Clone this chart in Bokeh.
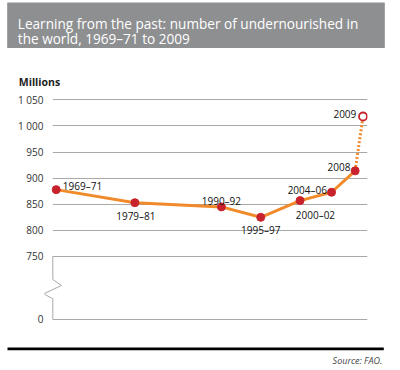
from bokeh.plotting import figure
from bokeh.layouts import column
from bokeh.models import FixedTicker, Range1d
from bokeh.core.properties import value
from bokeh.embed import file_html
from bokeh.resources import INLINE

# ---- data ----
periods = ["1969–71", "1979–81", "1990–92", "1995–97", "2000–02", "2004–06", "2008", "2009"]
mid_years = [1970, 1980, 1991, 1996, 2001, 2005, 2008, 2009]
millions = [878, 853, 845, 825, 857, 873, 914, 1018]
tick_values = [0, 750, 800, 850, 900, 950, 1000, 1050]
tick_labels = ["0", "750", "800", "850", "900", "950", "1 000", "1 050"]
title_lines = ["Learning from the past: number of undernourished in",
               "the world, 1969–71 to 2009"]
y_unit = "Millions"
source = "Source: FAO."

# ---- broken axis: 0 is drawn at this pseudo value ----
ZERO_AT = 630
def ymap(v):
    return v if v >= 750 else ZERO_AT + v

FONT = "Open Sans"
ORANGE = "#f08a2a"
RED = "#c8232c"
GRID = "#a9a9a9"
W = 392


def blank(height):
    f = figure(width=W, height=height, output_backend="svg", toolbar_location=None,
               x_range=Range1d(0, W), y_range=Range1d(height, 0),
               min_border=0, min_border_left=0, min_border_right=0,
               min_border_top=0, min_border_bottom=0, frame_align=False)
    f.axis.visible = False
    f.grid.visible = False
    f.outline_line_color = None
    return f

# ---- header: title box + unit ----
HEAD_H = 90
head = blank(HEAD_H)
head.quad(left=6.7, right=384.3, top=2, bottom=47.5, fill_color="#8e8f91", line_color=None)
head.text(x=[17.3, 17.3], y=[22.5, 37.5], text=title_lines, text_baseline="alphabetic",
          text_font=value(FONT), text_font_size="13.6px", text_color="white")
head.text(x=[18.3], y=[81.7], text=[y_unit], text_baseline="alphabetic",
          text_font=value(FONT), text_font_size="10.5px", text_font_style="bold",
          text_color="#222222")

# ---- main chart (frame from page y 90 to 325) ----
p = figure(width=W, height=245, output_backend="svg", toolbar_location=None,
           x_range=(1968.513, 2009.571), y_range=(617.9, 1067.8), frame_align=False,
           min_border_left=44, min_border_right=25, min_border_top=0, min_border_bottom=10)
p.outline_line_color = None
p.xaxis.visible = False
p.xgrid.visible = False

ticks = [ymap(v) for v in tick_values]
p.yaxis.ticker = FixedTicker(ticks=ticks)
p.yaxis.major_label_overrides = {t: lab for t, lab in zip(ticks, tick_labels)}
p.yaxis.axis_line_color = None
p.yaxis.major_tick_line_color = None
p.yaxis.minor_tick_line_color = None
p.yaxis.major_tick_out = 0
p.yaxis.major_tick_in = 0
p.yaxis.major_label_standoff = 1
p.yaxis.major_label_text_font = FONT
p.yaxis.major_label_text_font_size = "10px"
p.yaxis.major_label_text_color = "#333333"
p.ygrid.grid_line_color = GRID
p.ygrid.grid_line_width = 1

# white mask so grid lines start at the break line
grid_start = 1969.568
p.quad(left=1960, right=grid_start, bottom=600, top=1100, fill_color="white", line_color=None)

# axis segment with break symbol from 750 down to 0
bx = [grid_start, grid_start, grid_start + 1.10, grid_start - 1.15, grid_start, grid_start]
by = [ymap(750), 706, 694.5, 678.6, 669, ymap(0)]
p.line(bx, by, line_color=GRID, line_width=1)

ys = [ymap(v) for v in millions]
p.line(mid_years[:-1], ys[:-1], line_color=ORANGE, line_width=3)
p.line(mid_years[-2:], ys[-2:], line_color=ORANGE, line_width=3, line_dash="2 2")
p.scatter(mid_years[:-1], ys[:-1], size=8, fill_color=RED, line_color=RED)
p.scatter(mid_years[-1:], ys[-1:], size=8, fill_color="white", line_color=RED, line_width=1.8)

placement = [("left", 6.6, -3.5), ("center", 1, 13.3), ("center", 0, -5.4), ("center", 0, 12.6),
             ("left", -4.3, 14.6), ("right", -4.6, -2.7), ("right", -4.7, -4), ("right", -6.7, -2.4)]
for lab, xv, yv, (al, dx, dy) in zip(periods, mid_years, ys, placement):
    p.text(x=[xv], y=[yv], text=[lab], text_align=al, text_baseline="alphabetic",
           x_offset=dx, y_offset=dy, text_font=value(FONT), text_font_size="10px",
           text_color="#111111")

# ---- footer: rule + source ----
FOOT_H = 32
foot = blank(FOOT_H)
foot.quad(left=7, right=383.3, top=12, bottom=14.7, fill_color="black", line_color=None)
foot.text(x=[381.7], y=[25], text=[source], text_align="right", text_baseline="alphabetic",
          text_font=value(FONT), text_font_size="9px", text_font_style="italic",
          text_color="#444444")

layout = column(head, p, foot, spacing=0)
open("out.html", "w").write(file_html(layout, INLINE))
